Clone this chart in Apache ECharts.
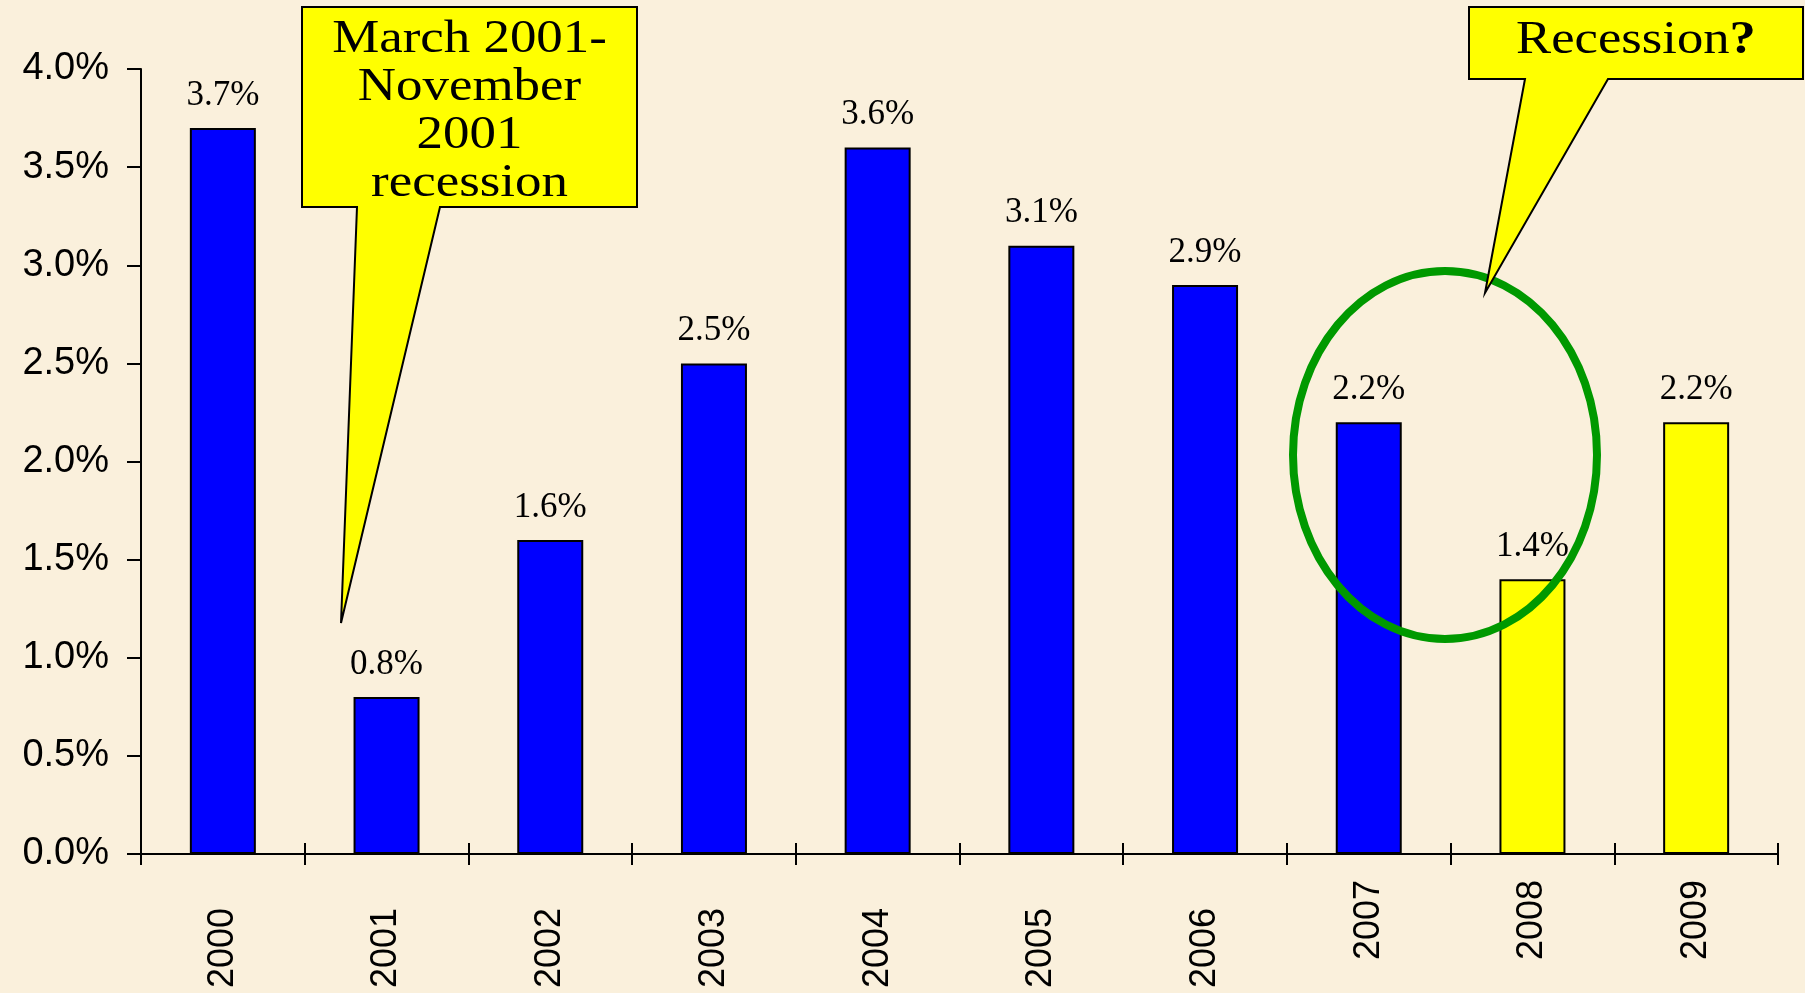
<!DOCTYPE html>
<html>
<head>
<meta charset="utf-8">
<script src="https://cdn.jsdelivr.net/npm/echarts@6/dist/echarts.min.js"></script>
<style>
  html, body { margin: 0; padding: 0; background: #FAF0DC; }
  #chart { width: 1805px; height: 993px; }
</style>
</head>
<body>
<div id="chart"></div>
<script>
// chart data
var years = ['2000', '2001', '2002', '2003', '2004', '2005', '2006', '2007', '2008', '2009'];
var growth = [3.7, 0.8, 1.6, 2.5, 3.6, 3.1, 2.9, 2.2, 1.4, 2.2];
var forecastYears = ['2008', '2009'];
var yTicks = [0, 0.5, 1.0, 1.5, 2.0, 2.5, 3.0, 3.5, 4.0];

var blue = '#0000FF',
    yellow = '#FFFF00',
    green = '#009900';

var myChart = echarts.init(document.getElementById('chart'));

var barData = growth.map(function (v, i) {
    return {
        value: v,
        itemStyle: { color: forecastYears.indexOf(years[i]) >= 0 ? yellow : blue }
    };
});

// the 2007-2009 labels sit closer to the axis than the others
var xLabels = years.map(function (y) {
    if (y < '2007') {
        return { value: y, textStyle: { padding: [0, 28, 0, 0] } };
    }
    return y;
});

var option = {
    backgroundColor: '#FAF0DC',
    animation: false,
    grid: {
        left: 141,
        right: 27,
        top: 69,
        bottom: 139
    },
    xAxis: [
        {
            type: 'category',
            data: xLabels,
            axisLine: { lineStyle: { color: '#000', width: 2 } },
            axisTick: { show: true, length: 11, lineStyle: { color: '#000', width: 2 } },
            axisLabel: {
                interval: 0,
                rotate: 90,
                margin: 26,
                fontSize: 36,
                fontFamily: 'Liberation Sans',
                color: '#000'
            }
        },
        {
            // upward half of the crossing ticks
            type: 'category',
            data: years,
            position: 'bottom',
            axisLine: { show: false },
            axisTick: { show: true, inside: true, length: 11, lineStyle: { color: '#000', width: 2 } },
            axisLabel: { show: false }
        }
    ],
    yAxis: {
        type: 'value',
        min: yTicks[0],
        max: yTicks[yTicks.length - 1],
        interval: 0.5,
        splitLine: { show: false },
        axisLine: { show: true, lineStyle: { color: '#000', width: 2 } },
        axisTick: { show: true, length: 14, lineStyle: { color: '#000', width: 2 } },
        axisLabel: {
            margin: 32,
            fontSize: 38,
            fontFamily: 'Liberation Sans',
            color: '#000',
            formatter: function (v) { return v.toFixed(1) + '%'; }
        }
    },
    series: [
        {
            type: 'bar',
            xAxisIndex: 0,
            data: barData,
            barWidth: 66,
            itemStyle: { borderColor: '#000', borderWidth: 2 },
            label: {
                show: true,
                position: 'top',
                distance: 15,
                fontSize: 35,
                fontFamily: 'Liberation Serif',
                color: '#000',
                formatter: function (p) { return p.value.toFixed(1) + '%'; }
            }
        }
    ],
    graphic: [
        {
            type: 'ellipse',
            shape: { cx: 1445, cy: 455, rx: 152, ry: 184 },
            style: { fill: 'none', stroke: green, lineWidth: 8 },
            z: 100
        },
        {
            type: 'polygon',
            shape: {
                points: [[302, 7], [637, 7], [637, 207], [440, 207], [341, 623], [357, 207], [302, 207]]
            },
            style: { fill: yellow, stroke: '#000', lineWidth: 2 },
            z: 110
        },
        {
            type: 'text',
            x: 469.5,
            y: 112,
            scaleX: 1.15,
            style: {
                text: 'March 2001-\nNovember\n2001\nrecession',
                fontSize: 46,
                lineHeight: 48,
                fontFamily: 'Liberation Serif',
                fill: '#000',
                align: 'center',
                verticalAlign: 'middle'
            },
            z: 111
        },
        {
            type: 'polygon',
            shape: {
                points: [[1469, 7], [1803, 7], [1803, 79], [1608, 79], [1485, 293], [1525, 79], [1469, 79]]
            },
            style: { fill: yellow, stroke: '#000', lineWidth: 2 },
            z: 110
        },
        {
            type: 'text',
            x: 1636,
            y: 41,
            scaleX: 1.12,
            style: {
                text: '{a|Recession}{b|?}',
                fill: '#000',
                align: 'center',
                verticalAlign: 'middle',
                rich: {
                    a: { fontSize: 47, fontFamily: 'Liberation Serif', fill: '#000' },
                    b: { fontSize: 47, fontFamily: 'Liberation Serif', fontWeight: 'bold', fill: '#000' }
                }
            },
            z: 111
        }
    ]
};

myChart.setOption(option);

window.addEventListener('resize', function () {
    myChart.resize();
});
</script>
</body>
</html>
